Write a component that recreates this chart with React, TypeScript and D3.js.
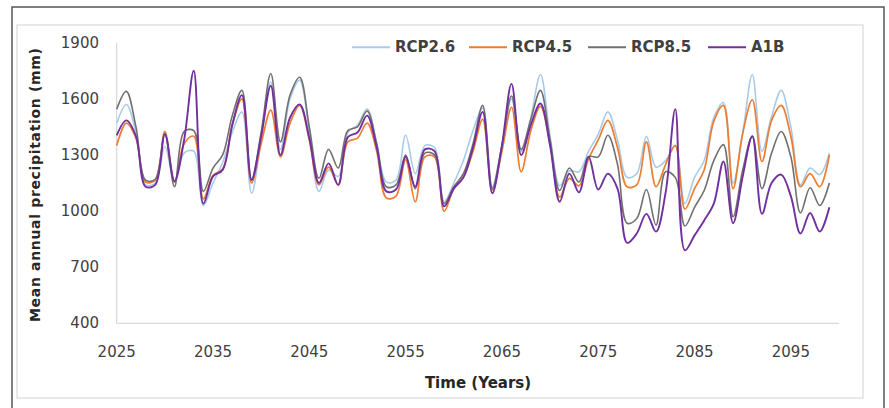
import React from "react";
import * as d3 from "d3";

const years: number[] = d3.range(2025, 2100);

const rcp26: number[] = [
  1470, 1570, 1420, 1140, 1150, 1345, 1155, 1310, 1320, 1030,
  1150, 1260, 1420, 1530, 1095, 1380, 1690, 1330, 1600, 1700,
  1420, 1105, 1220, 1185, 1420, 1460, 1545, 1360, 1155, 1165,
  1405, 1200, 1350, 1340, 1050, 1150, 1270, 1430, 1550, 1130,
  1350, 1600, 1320, 1500, 1730, 1400, 1135, 1215, 1210, 1320,
  1410, 1530, 1380, 1180, 1200, 1400, 1235, 1270, 1350, 1040,
  1180, 1270, 1500, 1580, 1150, 1415, 1730, 1320, 1505, 1645,
  1450, 1140, 1230, 1195, 1310,
];

const rcp45: number[] = [
  1350, 1470, 1390, 1155, 1165, 1425, 1155, 1360, 1400, 1065,
  1190, 1225, 1460, 1600, 1150, 1360, 1540, 1290, 1470, 1565,
  1380, 1140, 1235, 1140, 1370, 1390, 1470, 1320, 1070, 1080,
  1275, 1050, 1290, 1290, 1000, 1120, 1180, 1320, 1490, 1110,
  1320, 1555, 1210, 1430, 1560, 1360, 1075, 1175, 1135, 1280,
  1380, 1485, 1340, 1130, 1140, 1370, 1130, 1250, 1350, 1010,
  1120, 1220, 1480, 1565, 1120, 1415, 1595, 1265, 1485, 1565,
  1400, 1130, 1200, 1130, 1300,
];

const rcp85: number[] = [
  1545, 1640, 1450, 1165, 1170, 1415, 1130, 1425, 1430, 1105,
  1230, 1300, 1510, 1645, 1170, 1420, 1735, 1370, 1620, 1715,
  1450, 1175, 1330, 1230, 1430, 1450, 1535, 1360, 1130, 1140,
  1300, 1120, 1310, 1300, 1040, 1130, 1200, 1360, 1565, 1120,
  1350, 1615, 1330, 1490, 1645, 1380, 1110, 1230, 1155, 1290,
  1290, 1405, 1250, 935, 960, 1115, 925, 1210, 1180, 920,
  1020, 1110, 1270, 1355, 970, 1220, 1400, 1120, 1310, 1425,
  1290, 990, 1125, 1030, 1150,
];

const a1b: number[] = [
  1405, 1485, 1400, 1130, 1140, 1410, 1160, 1380, 1750, 1040,
  1185, 1220, 1460, 1620, 1165, 1400, 1670, 1300, 1500, 1570,
  1390, 1150, 1255, 1140, 1395, 1420, 1510, 1340, 1105, 1115,
  1290, 1130, 1330, 1320, 1025, 1120, 1180, 1340, 1530, 1095,
  1350, 1680, 1300, 1460, 1575, 1350, 1050, 1200, 1100, 1290,
  1115, 1200, 1120, 830, 880, 985, 890, 1100, 1545, 790,
  870, 950, 1040, 1265, 935, 1185, 1400, 985, 1150, 1195,
  1080, 880, 990, 890, 1020,
];

const seriesNames: string[] = ["RCP2.6", "RCP4.5", "RCP8.5", "A1B"];
const seriesColors: string[] = ["#a8cbea", "#ed7d31", "#707070", "#7030a0"];
const seriesValues: number[][] = [rcp26, rcp45, rcp85, a1b];
const seriesWidths: number[] = [1.6, 1.7, 1.6, 1.9];

const yTicks: number[] = [400, 700, 1000, 1300, 1600, 1900];
const xTicks: number[] = [2025, 2035, 2045, 2055, 2065, 2075, 2085, 2095];

const legendX: number[] = [352, 469, 588, 708];

export default function App() {
  const W = 889;
  const H = 408;
  const x = d3.scaleLinear().domain([2025, 2100]).range([116.7, 839]);
  const y = d3.scaleLinear().domain([400, 1900]).range([323.3, 42.7]);
  const line = d3
    .line<number>()
    .x((_, i) => x(years[i]))
    .y((d) => y(d))
    .curve(d3.curveCatmullRom.alpha(0.5));

  const font = "'DejaVu Sans', 'Liberation Sans', sans-serif";

  return (
    <svg
      width={W}
      height={H}
      style={{ position: "absolute", left: 0, top: 0, background: "#fff" }}
    >
      <rect x={0} y={0} width={W} height={H} fill="#fff" />
      {/* outer frame */}
      <rect x={12} y={7} width={872} height={420} fill="none" stroke="#555" strokeWidth={1.5} />
      {/* chart area frame */}
      <rect x={17} y={25} width={846} height={373} fill="none" stroke="#d9d9d9" strokeWidth={1.2} />

      {/* axes */}
      <line x1={x(2025)} x2={x(2025)} y1={y(1900)} y2={y(400)} stroke="#d0d0d0" strokeWidth={1} />
      <line x1={x(2025)} x2={x(2100)} y1={y(400)} y2={y(400)} stroke="#d0d0d0" strokeWidth={1} />

      {yTicks.map((t) => (
        <text
          key={t}
          x={99}
          y={y(t)}
          textAnchor="end"
          dominantBaseline="central"
          fontFamily={font}
          fontSize={15}
          fill="#404040"
        >
          {t}
        </text>
      ))}
      {xTicks.map((t) => (
        <text
          key={t}
          x={x(t)}
          y={352}
          textAnchor="middle"
          dominantBaseline="central"
          fontFamily={font}
          fontSize={15}
          fill="#404040"
        >
          {t}
        </text>
      ))}

      {/* series */}
      {seriesValues.map((vals, i) => (
        <path
          key={seriesNames[i]}
          d={line(vals) || ""}
          fill="none"
          stroke={seriesColors[i]}
          strokeWidth={seriesWidths[i]}
          strokeLinejoin="round"
        />
      ))}

      {/* legend */}
      {seriesNames.map((n, i) => (
        <g key={n}>
          <line
            x1={legendX[i]}
            x2={legendX[i] + 38}
            y1={47.3}
            y2={47.3}
            stroke={seriesColors[i]}
            strokeWidth={2}
          />
          <text
            x={legendX[i] + 43}
            y={47.3}
            dominantBaseline="central"
            fontFamily={font}
            fontSize={15}
            fontWeight="bold"
            fill="#404040"
          >
            {n}
          </text>
        </g>
      ))}

      {/* axis titles */}
      <text
        x={478}
        y={383}
        textAnchor="middle"
        dominantBaseline="central"
        fontFamily={font}
        fontSize={15}
        fontWeight="bold"
        fill="#262626"
      >
        Time (Years)
      </text>
      <text
        transform="translate(35,185) rotate(-90)"
        textAnchor="middle"
        dominantBaseline="central"
        fontFamily={font}
        fontSize={14}
        fontWeight="bold"
        fill="#262626"
        textLength={274}
        lengthAdjust="spacing"
      >
        Mean annual precipitation (mm)
      </text>
    </svg>
  );
}
